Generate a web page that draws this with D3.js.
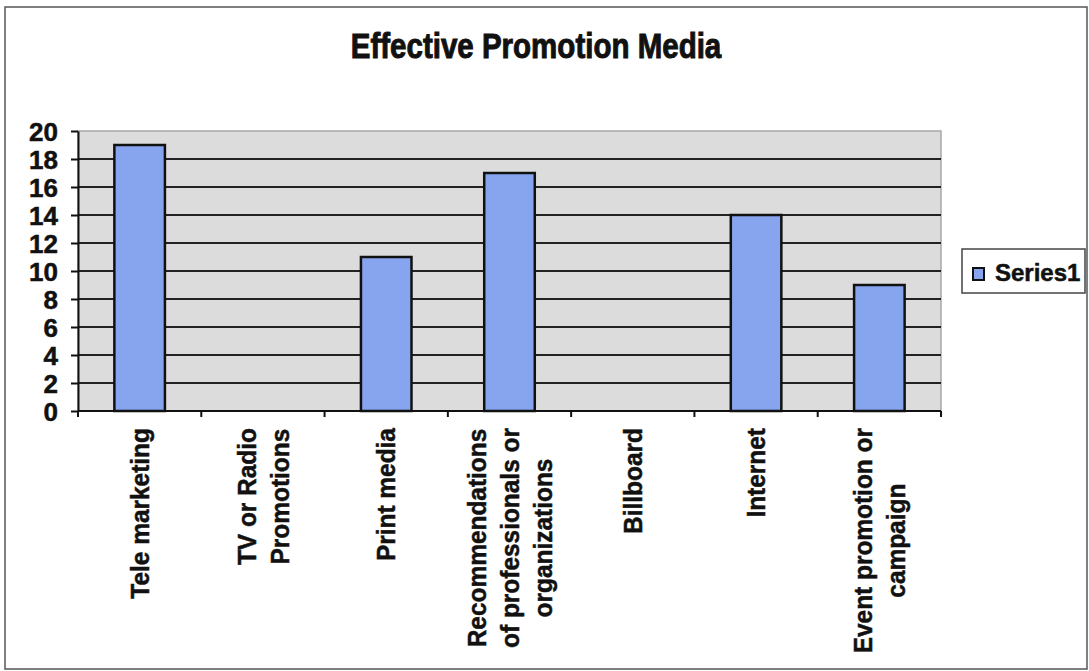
<!DOCTYPE html>
<html>
<head>
<meta charset="utf-8">
<script src="https://cdn.jsdelivr.net/npm/d3@7"></script>
<style>
  html, body { margin: 0; padding: 0; background: #fff; }
  svg { display: block; }
  text { font-family: "Liberation Sans", Arial, Helvetica, sans-serif; font-weight: bold; fill: #111;
         stroke: #111; stroke-width: 0.5px; }
</style>
</head>
<body>
<svg id="chart" width="1089" height="671"></svg>
<script>
// Survey results: which promotion media respondents found effective
const categories = [
  ["Tele marketing"],
  ["TV or Radio", "Promotions"],
  ["Print media"],
  ["Recommendations", "of professionals or", "organizations"],
  ["Billboard"],
  ["Internet"],
  ["Event promotion or", "campaign"]
];
const series1 = [19, 0, 11, 17, 0, 14, 9];
const yTicks = [0, 2, 4, 6, 8, 10, 12, 14, 16, 18, 20];
const seriesName = "Series1";
const chartTitle = "Effective Promotion Media";

const svg = d3.select("#chart");
const plot = { left: 78, right: 941, top: 131, bottom: 411 };
const barFill = "#87a4ee";

// outer chart frame
svg.append("rect")
  .attr("x", 5).attr("y", 7).attr("width", 1082).attr("height", 662)
  .attr("fill", "#fff").attr("stroke", "#555").attr("stroke-width", 1.5);

// title (narrow heavy face emulated with a horizontal scale)
svg.append("text")
  .attr("transform", "translate(536,58) scale(0.82,1)")
  .attr("text-anchor", "middle")
  .style("font-size", "36px")
  .style("stroke-width", "1px")
  .text(chartTitle);

const x = d3.scaleBand()
  .domain(d3.range(categories.length))
  .range([plot.left, plot.right])
  .paddingInner(0.59)
  .paddingOuter(0.295);

const y = d3.scaleLinear()
  .domain([0, 20])
  .range([plot.bottom, plot.top]);

// plot area background
svg.append("rect")
  .attr("x", plot.left).attr("y", plot.top)
  .attr("width", plot.right - plot.left).attr("height", plot.bottom - plot.top)
  .attr("fill", "#dcdcdc").attr("stroke", "#a8a8a8").attr("stroke-width", 1.5);

// horizontal gridlines
svg.append("g")
  .selectAll("line")
  .data(yTicks.filter(v => v > 0 && v < 20))
  .join("line")
  .attr("x1", plot.left).attr("x2", plot.right)
  .attr("y1", d => y(d)).attr("y2", d => y(d))
  .attr("stroke", "#222").attr("stroke-width", 2);

// bars
svg.append("g")
  .selectAll("rect")
  .data(series1)
  .join("rect")
  .attr("x", (d, i) => x(i))
  .attr("width", x.bandwidth())
  .attr("y", d => y(d))
  .attr("height", d => y(0) - y(d))
  .attr("fill", barFill)
  .attr("stroke", d => d > 0 ? "#111" : "none")
  .attr("stroke-width", 2.5);

// y axis
const yAxis = svg.append("g")
  .attr("transform", `translate(${plot.left},0)`)
  .call(d3.axisLeft(y).tickValues(yTicks).tickSize(7).tickPadding(13).tickSizeOuter(0));
yAxis.select(".domain").attr("stroke", "#111").attr("stroke-width", 2);
yAxis.selectAll(".tick line").attr("stroke", "#111").attr("stroke-width", 2);
yAxis.selectAll(".tick text")
  .style("font-size", "26px")
  .style("font-family", null)
  .attr("fill", "#111")
  .attr("dy", "0.36em");

// x axis baseline with tick marks between categories
const step = x.step();
const boundaries = d3.range(categories.length + 1).map(i => plot.left + i * step);
svg.append("line")
  .attr("x1", plot.left).attr("x2", plot.right)
  .attr("y1", plot.bottom).attr("y2", plot.bottom)
  .attr("stroke", "#111").attr("stroke-width", 2);
svg.append("g")
  .selectAll("line")
  .data(boundaries)
  .join("line")
  .attr("x1", d => d).attr("x2", d => d)
  .attr("y1", plot.bottom).attr("y2", plot.bottom + 6)
  .attr("stroke", "#111").attr("stroke-width", 2);

// rotated category labels, lines centred within each block
const labelSize = 26, labelSqueeze = 0.94, lineGap = 33, labelTop = plot.bottom + 17;
const measure = svg.append("text").style("font-size", labelSize + "px");
categories.forEach((lines, i) => {
  const widths = lines.map(t => { measure.text(t); return measure.node().getComputedTextLength() * labelSqueeze; });
  const blockW = d3.max(widths);
  const cx = x(i) + x.bandwidth() / 2;
  const g = svg.append("g")
    .attr("transform", `translate(${cx},${labelTop}) rotate(-90)`);
  lines.forEach((t, j) => {
    g.append("text")
      .attr("transform", `translate(${-blockW / 2},${(j - (lines.length - 1) / 2) * lineGap}) scale(${labelSqueeze},1)`)
      .attr("text-anchor", "middle")
      .attr("dominant-baseline", "central")
      .style("font-size", labelSize + "px")
      .text(t);
  });
});
measure.remove();

// legend
const legend = svg.append("g");
legend.append("rect")
  .attr("x", 962).attr("y", 249).attr("width", 123).attr("height", 44)
  .attr("fill", "#fff").attr("stroke", "#444").attr("stroke-width", 1.5);
legend.append("rect")
  .attr("x", 973).attr("y", 268).attr("width", 11).attr("height", 12)
  .attr("fill", barFill).attr("stroke", "#111").attr("stroke-width", 2);
legend.append("text")
  .attr("x", 995).attr("y", 281)
  .style("font-size", "24px")
  .text(seriesName);
</script>
</body>
</html>
